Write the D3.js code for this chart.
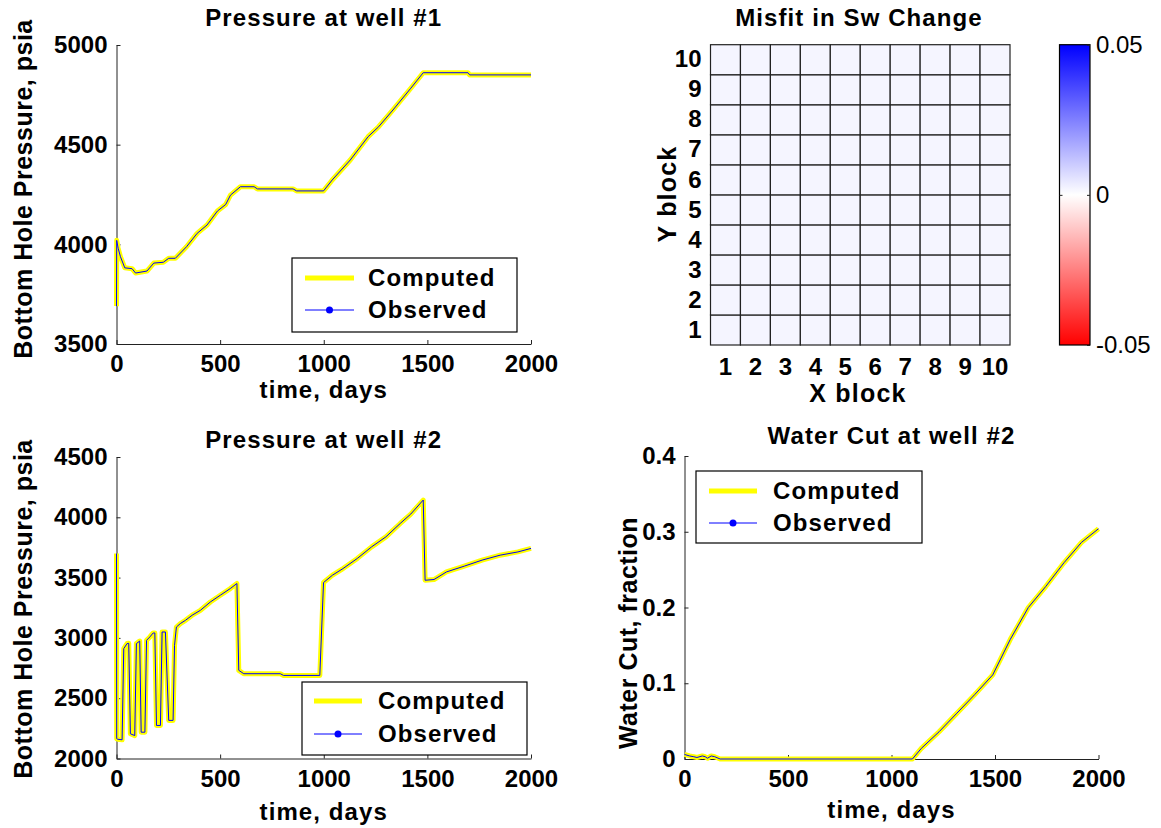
<!DOCTYPE html>
<html><head><meta charset="utf-8">
<script src="https://cdn.jsdelivr.net/npm/d3@7"></script>
<style>
html,body{margin:0;padding:0;background:#fff;}
svg{display:block;font-family:"Liberation Sans",Arial,sans-serif;}
.tick text{font-weight:bold;font-size:24px;fill:#000;}
.cb .tick text{font-weight:normal;}
.domain,.tick line{stroke:#222;}
</style></head><body>
<script>
// ---------- DATA ----------
const timeTicks = [0, 500, 1000, 1500, 2000];
const p1Ticks = [3500, 4000, 4500, 5000];
const p2Ticks = [2000, 2500, 3000, 3500, 4000, 4500];
const wcTicks = [0, 0.1, 0.2, 0.3, 0.4];
const wcTickLabels = ["0", "0.1", "0.2", "0.3", "0.4"];

const well1Time = [0, 1, 8, 19, 40, 75, 92, 147, 180, 226, 252, 284, 338, 389, 437, 487, 527, 550, 598, 664, 680, 852, 869, 999, 1041, 1128, 1214, 1265, 1334, 1420, 1480, 1696, 1704, 2000];
const well1Computed = [3690, 4020, 3980, 3938, 3882, 3878, 3856, 3866, 3906, 3910, 3930, 3930, 3988, 4055, 4097, 4167, 4200, 4247, 4289, 4289, 4278, 4278, 4268, 4268, 4323, 4423, 4540, 4590, 4674, 4783, 4861, 4861, 4850, 4850];
const well1Observed = [3690, 4020, 3980, 3938, 3882, 3878, 3856, 3866, 3906, 3910, 3930, 3930, 3988, 4055, 4097, 4167, 4200, 4247, 4289, 4289, 4278, 4278, 4268, 4268, 4323, 4423, 4540, 4590, 4674, 4783, 4861, 4861, 4850, 4850];

const well2Time = [0, 1, 5, 27, 35, 51, 59, 67, 88, 96, 112, 119, 137, 145, 161, 177, 185, 193, 212, 220, 236, 252, 273, 280, 289, 308, 333, 365, 405, 453, 501, 549, 581, 590, 614, 790, 806, 981, 999, 1042, 1093, 1162, 1231, 1300, 1369, 1420, 1480, 1489, 1532, 1592, 1678, 1764, 1851, 1937, 2000];
const well2Computed = [3700, 2164, 2160, 2155, 2911, 2953, 2955, 2205, 2190, 2953, 2974, 2218, 2218, 2980, 3008, 3041, 3041, 2274, 2274, 3049, 3049, 2316, 2316, 2938, 3090, 3119, 3146, 3188, 3229, 3298, 3354, 3409, 3451, 2731, 2703, 2703, 2689, 2689, 3459, 3520, 3575, 3659, 3755, 3838, 3949, 4027, 4143, 3478, 3484, 3547, 3595, 3645, 3686, 3713, 3742];
const well2Observed = [3700, 2164, 2160, 2155, 2911, 2953, 2955, 2205, 2190, 2953, 2974, 2218, 2218, 2980, 3008, 3041, 3041, 2274, 2274, 3049, 3049, 2316, 2316, 2938, 3090, 3119, 3146, 3188, 3229, 3298, 3354, 3409, 3451, 2731, 2703, 2703, 2689, 2689, 3459, 3520, 3575, 3659, 3755, 3838, 3949, 4027, 4143, 3478, 3484, 3547, 3595, 3645, 3686, 3713, 3742];

const wcTime = [0, 25, 45, 60, 86, 100, 111, 129, 146, 172, 1101, 1144, 1230, 1316, 1402, 1489, 1574, 1661, 1746, 1833, 1918, 2000];
const wcComputed = [0.006, 0.004, 0.003, 0.002, 0.004, 0.003, 0.001, 0.004, 0.003, 0, 0, 0.014, 0.036, 0.0605, 0.085, 0.111, 0.158, 0.2, 0.228, 0.259, 0.286, 0.304];
const wcObserved = [0.006, 0.004, 0.003, 0.002, 0.004, 0.003, 0.001, 0.004, 0.003, 0, 0, 0.014, 0.036, 0.0605, 0.085, 0.111, 0.158, 0.2, 0.228, 0.259, 0.286, 0.304];

const blocks = [1, 2, 3, 4, 5, 6, 7, 8, 9, 10];
const misfit = [
  [0.002,0.002,0.002,0.002,0.002,0.002,0.002,0.002,0.002,0.002],
  [0.002,0.002,0.002,0.002,0.002,0.002,0.002,0.002,0.002,0.002],
  [0.002,0.002,0.002,0.002,0.002,0.002,0.002,0.002,0.002,0.002],
  [0.002,0.002,0.002,0.002,0.002,0.002,0.002,0.002,0.002,0.002],
  [0.002,0.002,0.002,0.002,0.002,0.002,0.002,0.002,0.002,0.002],
  [0.002,0.002,0.002,0.002,0.002,0.002,0.002,0.002,0.002,0.002],
  [0.002,0.002,0.002,0.002,0.002,0.002,0.002,0.002,0.002,0.002],
  [0.002,0.002,0.002,0.002,0.002,0.002,0.002,0.002,0.002,0.002],
  [0.002,0.002,0.002,0.002,0.002,0.002,0.002,0.002,0.002,0.002],
  [0.002,0.002,0.002,0.002,0.002,0.002,0.002,0.002,0.002,0.002]
];
const cbTicks = [-0.05, 0, 0.05];
const cbTickLabels = ["-0.05", "0", "0.05"];
const legendLabels = ["Computed", "Observed"];

// ---------- DRAW ----------
const W = 1161, H = 828;
const svg = d3.select("body").append("svg").attr("width", W).attr("height", H);

function lineChart(o) {
  const x = d3.scaleLinear().domain([0, 2000]).range([o.left, o.right]);
  const y = d3.scaleLinear().domain(o.ydom).range([o.bottom, o.top]);
  const g = svg.append("g");
  g.append("g").attr("transform", `translate(0,${o.bottom})`)
    .call(d3.axisBottom(x).tickValues(timeTicks).tickFormat(d3.format("d")).tickSizeInner(-4).tickSizeOuter(0).tickPadding(11));
  g.append("g").attr("transform", `translate(${o.left},0)`)
    .call(d3.axisLeft(y).tickValues(o.yticks).tickFormat((d, i) => o.ylabels ? o.ylabels[i] : d3.format("d")(d)).tickSizeInner(-4).tickSizeOuter(0).tickPadding(9));
  g.selectAll(".domain").attr("stroke-width", 1);
  const ln = d3.line().x(d => x(d[0])).y(d => y(d[1]));
  g.append("path").datum(o.t.map((t, i) => [t, o.comp[i]]))
    .attr("d", ln).attr("fill", "none").attr("stroke", "#ffff00").attr("stroke-width", 5).attr("stroke-linejoin", "round");
  g.append("path").datum(o.t.map((t, i) => [t, o.obs[i]]))
    .attr("d", ln).attr("fill", "none").attr("stroke", "#0000ff").attr("stroke-width", 1);
  // title
  g.append("text").attr("x", (o.left + o.right) / 2).attr("y", o.titleY).attr("dy", "0.35em")
    .attr("text-anchor", "middle").attr("font-weight", "bold").attr("font-size", 24).attr("letter-spacing", 1.1).text(o.title);
  g.append("text").attr("x", (o.left + o.right) / 2).attr("y", o.xlabY).attr("dy", "0.35em")
    .attr("text-anchor", "middle").attr("font-weight", "bold").attr("font-size", 24).attr("letter-spacing", 1.1).text("time, days");
  g.append("text").attr("transform", `translate(${o.ylabX},${o.ylabY}) rotate(-90)`).attr("dy", "0.35em")
    .attr("text-anchor", "middle").attr("font-weight", "bold").attr("font-size", 25).attr("letter-spacing", 0.5).text(o.ylab);
  // legend
  const L = o.legend;
  g.append("rect").attr("x", L.x0).attr("y", L.y0).attr("width", L.x1 - L.x0).attr("height", L.y1 - L.y0)
    .attr("fill", "#fff").attr("stroke", "#000").attr("stroke-width", 1.2);
  g.append("line").attr("x1", L.lx0).attr("x2", L.lx1).attr("y1", L.cy).attr("y2", L.cy).attr("stroke", "#ffff00").attr("stroke-width", 5);
  g.append("line").attr("x1", L.lx0).attr("x2", L.lx1).attr("y1", L.oy).attr("y2", L.oy).attr("stroke", "#0000ff").attr("stroke-width", 1);
  g.append("circle").attr("cx", (L.lx0 + L.lx1) / 2).attr("cy", L.oy).attr("r", 3.5).attr("fill", "#0000ff");
  [[L.cy, legendLabels[0]], [L.oy, legendLabels[1]]].forEach(([yy, s]) => {
    g.append("text").attr("x", L.tx).attr("y", yy).attr("dy", "0.35em").attr("font-weight", "bold")
      .attr("font-size", 24).attr("letter-spacing", 1.1).text(s);
  });
}

lineChart({left: 116.5, right: 531, top: 45, bottom: 344, ydom: [3500, 5000], yticks: p1Ticks,
  t: well1Time, comp: well1Computed, obs: well1Observed, title: "Pressure at well #1", titleY: 18,
  xlabY: 390, ylab: "Bottom Hole Pressure, psia", ylabX: 23, ylabY: 189,
  legend: {x0: 292, x1: 517, y0: 258, y1: 332, lx0: 305, lx1: 354, cy: 278, oy: 310, tx: 368}});

lineChart({left: 116.5, right: 531, top: 457, bottom: 758.5, ydom: [2000, 4500], yticks: p2Ticks,
  t: well2Time, comp: well2Computed, obs: well2Observed, title: "Pressure at well #2", titleY: 440,
  xlabY: 812, ylab: "Bottom Hole Pressure, psia", ylabX: 23, ylabY: 609,
  legend: {x0: 302, x1: 527, y0: 682, y1: 755, lx0: 314, lx1: 362, cy: 701, oy: 734, tx: 378}});

lineChart({left: 684.5, right: 1098.5, top: 456, bottom: 759, ydom: [0, 0.4], yticks: wcTicks, ylabels: wcTickLabels,
  t: wcTime, comp: wcComputed, obs: wcObserved, title: "Water Cut at well #2", titleY: 436,
  xlabY: 810, ylab: "Water Cut, fraction", ylabX: 628, ylabY: 633,
  legend: {x0: 696, x1: 922, y0: 471, y1: 543, lx0: 709, lx1: 757, cy: 491, oy: 523, tx: 773}});

// ---------- HEATMAP ----------
const hm = {left: 710.5, right: 1010, top: 44.7, bottom: 345};
const hx = d3.scaleBand().domain(blocks).range([hm.left, hm.right]);
const hy = d3.scaleBand().domain(blocks).range([hm.bottom, hm.top]);
const color = d3.scaleLinear().domain([-0.05, 0, 0.05]).range(["#ff0000", "#ffffff", "#0000ff"]);
const hg = svg.append("g");
const cells = [];
misfit.forEach((row, j) => row.forEach((v, i) => cells.push({x: blocks[i], y: blocks[j], v})));
hg.selectAll("rect").data(cells).join("rect")
  .attr("x", d => hx(d.x)).attr("y", d => hy(d.y)).attr("width", hx.bandwidth()).attr("height", hy.bandwidth())
  .attr("fill", d => color(d.v)).attr("stroke", "#222").attr("stroke-width", 1.2);
hg.append("g").attr("transform", `translate(0,${hm.bottom})`)
  .call(d3.axisBottom(hx).tickSize(0).tickPadding(13)).select(".domain").remove();
hg.append("g").attr("transform", `translate(${hm.left},0)`)
  .call(d3.axisLeft(hy).tickSize(0).tickPadding(9)).select(".domain").remove();
hg.append("text").attr("x", 859).attr("y", 18).attr("dy", "0.35em").attr("text-anchor", "middle")
  .attr("font-weight", "bold").attr("font-size", 24).attr("letter-spacing", 1.1).text("Misfit in Sw Change");
hg.append("text").attr("x", 858).attr("y", 393).attr("dy", "0.35em").attr("text-anchor", "middle")
  .attr("font-weight", "bold").attr("font-size", 25).attr("letter-spacing", 1.2).text("X block");
hg.append("text").attr("transform", "translate(667,194) rotate(-90)").attr("dy", "0.35em").attr("text-anchor", "middle")
  .attr("font-weight", "bold").attr("font-size", 25).attr("letter-spacing", 1.2).text("Y block");

// ---------- COLORBAR ----------
const cb = {left: 1059.5, right: 1090, top: 44.7, bottom: 345};
const cy = d3.scaleLinear().domain([-0.05, 0.05]).range([cb.bottom, cb.top]);
const defs = svg.append("defs");
const grad = defs.append("linearGradient").attr("id", "cbgrad").attr("x1", 0).attr("y1", 1).attr("x2", 0).attr("y2", 0);
cbTicks.forEach(v => grad.append("stop").attr("offset", (v + 0.05) / 0.1).attr("stop-color", color(v)));
svg.append("rect").attr("x", cb.left).attr("y", cb.top).attr("width", cb.right - cb.left).attr("height", cb.bottom - cb.top)
  .attr("fill", "url(#cbgrad)").attr("stroke", "#000").attr("stroke-width", 1.2);
const cbg = svg.append("g").attr("class", "cb").attr("transform", `translate(${cb.right},0)`)
  .call(d3.axisRight(cy).tickValues(cbTicks).tickFormat((d, i) => cbTickLabels[i]).tickSizeInner(-3).tickSizeOuter(0).tickPadding(6));
cbg.select(".domain").remove();
cbg.selectAll(".tick text").attr("font-size", 24).style("font-weight", "normal");
svg.append("g").attr("transform", `translate(${cb.left},0)`)
  .call(d3.axisLeft(cy).tickValues([0]).tickFormat("").tickSizeInner(-3).tickSizeOuter(0))
  .select(".domain").remove();
</script>
</body></html>
